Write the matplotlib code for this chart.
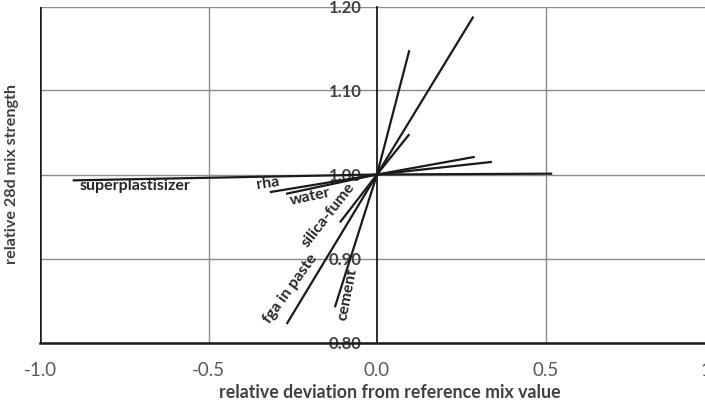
#! /usr/bin/env python3

import matplotlib.pyplot as plt

## Données

# each ingredient: low deviation, reference (0), high deviation
names = ["superplastisizer", "rha", "water", "silica-fume", "fga in paste", "cement"]

dev_lo = [-0.903, -0.318, -0.270, -0.110, -0.268, -0.125]
dev_hi = [0.520, 0.341, 0.290, 0.096, 0.286, 0.096]

str_lo = [0.993, 0.979, 0.977, 0.943, 0.822, 0.842]
str_hi = [1.001, 1.015, 1.021, 1.048, 1.188, 1.148]

xticks = [-1.0, -0.5, 0.0, 0.5, 1.0]
yticks = [0.80, 0.90, 1.00, 1.10, 1.20]

# where the names sit along each line (x, y, rotation)
label_pos = {
    "superplastisizer": (-0.718, 0.986, 0),
    "rha":              (-0.323, 0.989, 8),
    "water":            (-0.199, 0.974, 12),
    "silica-fume":      (-0.145, 0.952, 52),
    "fga in paste":     (-0.257, 0.864, 54),
    "cement":           (-0.086, 0.857, 79),
}

plt.rcParams["font.family"] = ["Lato", "DejaVu Sans"]

fig = plt.figure(figsize=(7.05, 4.04), dpi=100)
ax = fig.add_axes([40 / 705, 1 - 342.5 / 404, 674 / 705, 336 / 404])

for i, name in enumerate(names):
    x = [dev_lo[i], 0.0, dev_hi[i]]
    y = [str_lo[i], 1.0, str_hi[i]]
    ax.plot(x, y, color="#1a1a1a", lw=1.6, solid_capstyle="butt", zorder=3)
    lx, ly, rot = label_pos[name]
    ax.text(lx, ly, name, rotation=rot, ha="center", va="center",
            fontsize=11.5, fontweight="bold", color="#262626",
            rotation_mode="anchor", zorder=4)

ax.set_xlim(-1.0, 1.0)
ax.set_ylim(0.80, 1.20)
ax.set_xticks(xticks)
ax.set_xticklabels([f"{v:.1f}" for v in xticks])
ax.set_yticks(yticks)
ax.set_yticklabels([f"{v:.2f}" for v in yticks])

ax.grid(True, color="#8c8c8c", lw=1.0, zorder=0)
ax.get_ygridlines()[-1].set_visible(False)
ax.get_xgridlines()[2].set_visible(False)

ax.spines["left"].set_position(("data", 0))
ax.spines["left"].set_color("#1a1a1a")
ax.spines["left"].set_linewidth(1.3)
ax.spines["bottom"].set_color("#1a1a1a")
ax.spines["bottom"].set_linewidth(1.8)
ax.spines["top"].set_visible(False)
ax.spines["right"].set_visible(False)
ax.axvline(-1.0, color="#1a1a1a", lw=1.8, zorder=2)

ax.tick_params(axis="x", length=0, pad=14, labelsize=13.5, labelcolor="#595959")
ax.tick_params(axis="y", length=0, pad=11, labelsize=12, labelcolor="#404040")
for t in ax.get_yticklabels():
    t.set_fontweight("bold")

ax.set_xlabel("relative deviation from reference mix value",
              fontsize=12.8, fontweight="bold", color="#404040")
ax.xaxis.set_label_coords(0.519, -0.148)
ax.xaxis.label.set_va("center")
ax.set_ylabel("relative 28d mix strength",
              fontsize=11.6, fontweight="bold", color="#404040")
ax.yaxis.set_label_coords(-0.0415, 0.5)
ax.yaxis.label.set_va("center")

fig.savefig("out.png", dpi=100)
